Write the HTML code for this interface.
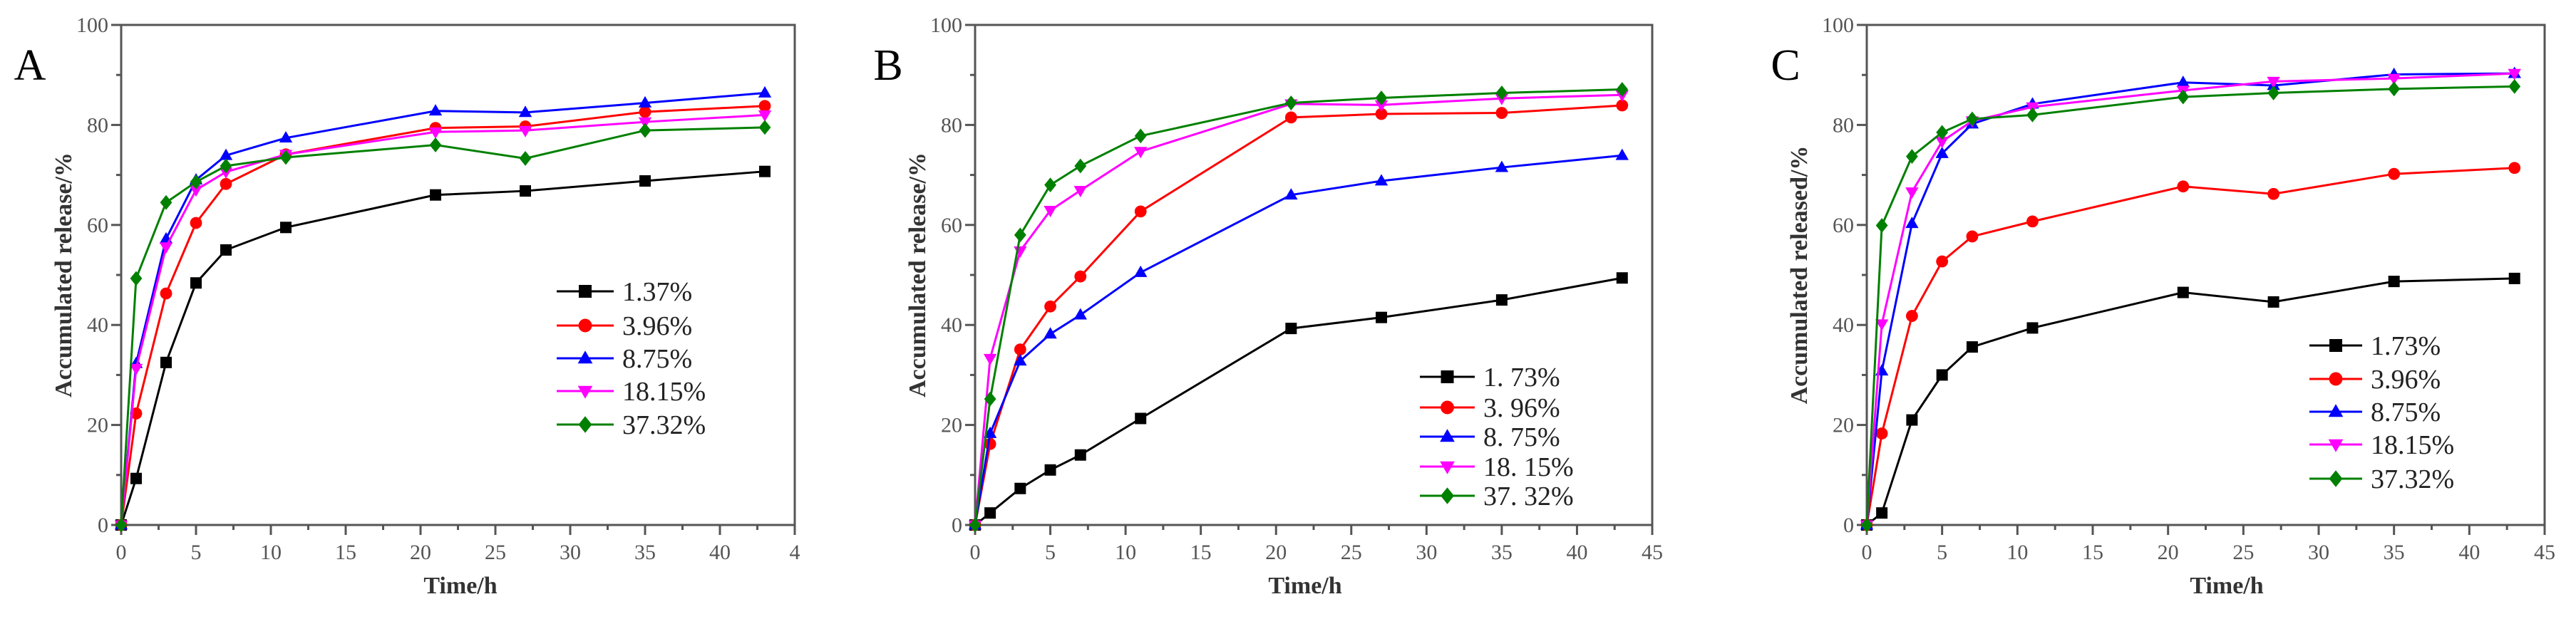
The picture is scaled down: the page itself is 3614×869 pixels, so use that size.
<!DOCTYPE html>
<html><head><meta charset="utf-8">
<style>
html,body{margin:0;padding:0;background:#fff;}
svg{display:block;font-family:"Liberation Serif",serif;}
svg text{font-family:"Liberation Serif",serif;}
</style></head>
<body>
<svg id="fig" width="3614" height="869" viewBox="0 0 3614 869" xmlns="http://www.w3.org/2000/svg" font-family="Liberation Serif, serif"></svg>
<script>
const times = [0,1,3,5,7,11,21,27,35,43];
const xTicks = [0,5,10,15,20,25,30,35,40,45];
const yTicks = [0,20,40,60,80,100];
const seriesColors = ['#000000','#ff0000','#0000ff','#ff00ff','#008000'];
const seriesMarkers = ['square','circle','triangle','triangleDown','diamond'];

const aLabels = ['1.37%','3.96%','8.75%','18.15%','37.32%'];
const aBlack = [0,9.3,32.5,48.4,55,59.5,66,66.8,68.8,70.7];
const aRed = [0,22.3,46.3,60.4,68.2,74.1,79.4,79.7,82.6,83.8];
const aBlue = [0,32.3,57.2,69,73.9,77.4,82.8,82.5,84.4,86.4];
const aMagenta = [0,31.3,55.6,67,70.6,74.1,78.6,78.9,80.6,82];
const aGreen = [0,49.3,64.5,68.6,71.8,73.5,76,73.3,78.9,79.5];

const bLabels = ['1. 73%','3. 96%','8. 75%','18. 15%','37. 32%'];
const bBlack = [0,2.4,7.3,11,14,21.3,39.3,41.5,45,49.4];
const bRed = [0,16.2,35.1,43.7,49.7,62.7,81.5,82.2,82.4,83.9];
const bBlue = [0,18.3,32.8,38.2,42,50.5,66,68.8,71.5,73.9];
const bMagenta = [0,33.3,54.8,62.9,66.9,74.7,84.2,84,85.3,86];
const bGreen = [0,25.2,58,68,71.8,77.8,84.4,85.4,86.4,87.1];

const cLabels = ['1.73%','3.96%','8.75%','18.15%','37.32%'];
const cBlack = [0,2.4,21,30,35.6,39.4,46.5,44.6,48.7,49.3];
const cRed = [0,18.3,41.8,52.7,57.7,60.7,67.7,66.2,70.2,71.4];
const cBlue = [0,30.8,60.3,74.3,80.2,84.2,88.5,87.9,90.1,90.3];
const cMagenta = [0,40.2,66.6,76.7,80.8,83.6,86.9,88.7,89.3,90.3];
const cGreen = [0,59.9,73.7,78.5,81.2,82,85.6,86.4,87.2,87.7];

const NS='http://www.w3.org/2000/svg';
const svg=document.getElementById('fig');
const FF='Liberation Serif, serif';
function mk(tag,attrs,parent){const e=document.createElementNS(NS,tag);for(const k in attrs)e.setAttribute(k,attrs[k]);if(tag==='text')e.setAttribute('font-family',FF);(parent||svg).appendChild(e);return e;}

function marker(g,type,cx,cy,color,s){
  let e;
  if(type==='square') e=mk('rect',{x:cx-s,y:cy-s,width:2*s,height:2*s,fill:color},g);
  else if(type==='circle') e=mk('circle',{cx:cx,cy:cy,r:s*1.05,fill:color},g);
  else if(type==='triangle') e=mk('polygon',{points:`${cx},${cy-s*1.2} ${cx-s*1.15},${cy+s*0.8} ${cx+s*1.15},${cy+s*0.8}`,fill:color},g);
  else if(type==='triangleDown') e=mk('polygon',{points:`${cx},${cy+s*1.2} ${cx-s*1.15},${cy-s*0.8} ${cx+s*1.15},${cy-s*0.8}`,fill:color},g);
  else e=mk('polygon',{points:`${cx},${cy-s*1.3} ${cx+s*1.05},${cy} ${cx},${cy+s*1.3} ${cx-s*1.05},${cy}`,fill:color},g);
  return e;
}

function panel(cfg){
  const L=cfg.left,R=cfg.right,T=35,B=737;
  const xs=v=>L+(v/45)*(R-L);
  const ys=v=>B-(v/100)*(B-T);
  const g=mk('g',{});
  
  
  const ax='#555';
  const frame=mk('rect',{x:L,y:T,width:R-L,height:B-T,fill:'none',stroke:ax,'stroke-width':3},g);
  
  
  for(let v=0;v<=100;v+=10){
    const major=v%20===0;
    mk('line',{x1:L-(major?14:7),x2:L,y1:ys(v),y2:ys(v),stroke:ax,'stroke-width':3},g);
  }
  yTicks.forEach(v=>{
    const t=mk('text',{x:L-18,y:ys(v)+10,'text-anchor':'end','font-size':30,fill:'#555'},g);
    t.textContent=v;
    
    
  });
  for(let v=0;v<=45;v+=2.5){
    const major=v%5===0;
    mk('line',{x1:xs(v),x2:xs(v),y1:B,y2:B+(major?14:7),stroke:ax,'stroke-width':3},g);
  }
  xTicks.forEach(v=>{
    const t=mk('text',{x:xs(v),y:B+48,'text-anchor':'middle','font-size':30,fill:'#555'},g);
    t.textContent=(cfg.cut&&v===45)?'4':v;
    
    
  });
  const xt=mk('text',{x:cfg.xTitleX,y:833,'text-anchor':'middle','font-size':34,'font-weight':'bold',fill:'#333'},g);
  xt.textContent='Time/h';
  
  
  const yt=mk('text',{x:0,y:0,'text-anchor':'middle','font-size':34,'font-weight':'bold',fill:'#333',transform:`translate(${cfg.yTitleX},386) rotate(-90)`},g);
  yt.textContent=cfg.yTitle;
  
  
  const lt=mk('text',{x:cfg.letterX,y:112,'text-anchor':'middle','font-size':62,fill:'#000'},g);
  lt.textContent=cfg.letter;
  
  
  cfg.series.forEach((vals,i)=>{
    const sg=mk('g',{},g);
    
    
    const pts=vals.map((v,j)=>xs(times[j])+','+ys(v)).join(' ');
    mk('polyline',{points:pts,fill:'none',stroke:seriesColors[i],'stroke-width':3},sg);
    vals.forEach((v,j)=>{
      const m=marker(sg,seriesMarkers[i],xs(times[j]),ys(v),seriesColors[i],8);
      
      
    });
    const ly=cfg.legY[i];
    const lg=mk('g',{},g);
    
    
    mk('line',{x1:cfg.legX,x2:cfg.legX+cfg.legW,y1:ly,y2:ly,stroke:seriesColors[i],'stroke-width':3},lg);
    marker(lg,seriesMarkers[i],cfg.legX+cfg.legW/2,ly,seriesColors[i],9);
    const tx=mk('text',{x:cfg.legX+cfg.legW+12,y:ly+13,'font-size':38,fill:'#222'},lg);
    tx.textContent=cfg.labels[i];
  });
}

panel({name:'panel-a',left:170,right:1115,letter:'A',letterX:42,xTitleX:646,yTitleX:100,yTitle:'Accumulated release/%',cut:true,
  series:[aBlack,aRed,aBlue,aMagenta,aGreen],labels:aLabels,legX:781,legW:80,legY:[409,457,503,549,596]});
panel({name:'panel-b',left:1368,right:2318,letter:'B',letterX:1246,xTitleX:1831,yTitleX:1298,yTitle:'Accumulated release/%',
  series:[bBlack,bRed,bBlue,bMagenta,bGreen],labels:bLabels,legX:1992,legW:77,legY:[529,572,613,655,696]});
panel({name:'panel-c',left:2619,right:3570,letter:'C',letterX:2505,xTitleX:3124,yTitleX:2535,yTitle:'Accumulated released/%',
  series:[cBlack,cRed,cBlue,cMagenta,cGreen],labels:cLabels,legX:3240,legW:74,legY:[485,532,578,624,672]});
</script>
</body></html>
